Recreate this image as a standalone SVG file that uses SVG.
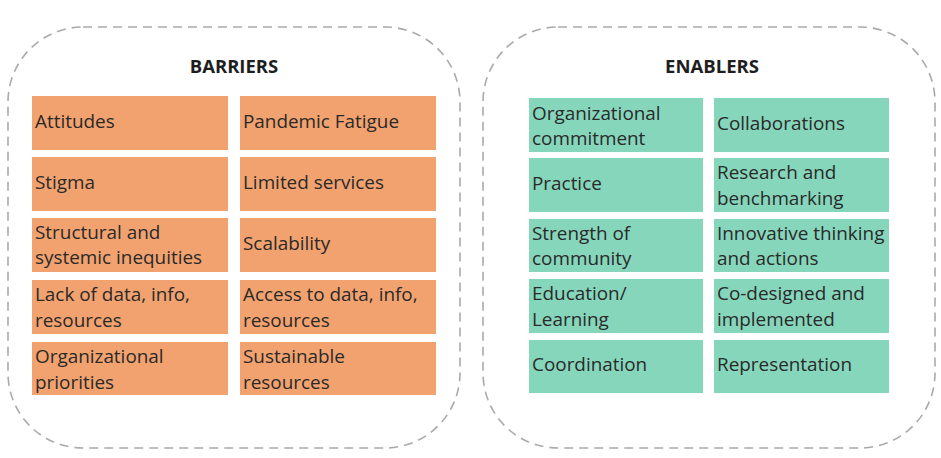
<svg xmlns="http://www.w3.org/2000/svg" width="941" height="458" viewBox="0 0 941 458">
<style>
.frame{fill:none;stroke:#aaaaaa;stroke-width:1.6;stroke-dasharray:9 6}
.b{fill:#F2A26F}
.e{fill:#86D6BC}
.t{font-family:"Open Sans","Liberation Sans",sans-serif;font-size:18.9px;fill:#2a2a2a}
.h{font-family:"Open Sans","Liberation Sans",sans-serif;font-size:18.5px;font-weight:bold;fill:#1e1e1e;text-anchor:middle}
</style>
<rect width="941" height="458" fill="#ffffff"/>
<g id="barriers">
<rect class="frame" x="8" y="27" width="452" height="421" rx="75" ry="75"/>
<text class="h" x="234" y="73">BARRIERS</text>
</g>
<g id="enablers">
<rect class="frame" x="483" y="27" width="452" height="421" rx="75" ry="75"/>
<text class="h" x="712" y="73">ENABLERS</text>
</g>
<g id="b-attitudes"><rect class="b" x="32" y="96" width="196" height="54"/><text class="t" x="35" y="128">Attitudes</text></g>
<g id="b-pandemic"><rect class="b" x="240" y="96" width="196" height="54"/><text class="t" x="243" y="128">Pandemic Fatigue</text></g>
<g id="b-stigma"><rect class="b" x="32" y="157" width="196" height="54"/><text class="t" x="35" y="189">Stigma</text></g>
<g id="b-limited"><rect class="b" x="240" y="157" width="196" height="54"/><text class="t" x="243" y="189">Limited services</text></g>
<g id="b-structural"><rect class="b" x="32" y="218" width="196" height="54"/><text class="t" x="35" y="239">Structural and</text><text class="t" x="35" y="264">systemic inequities</text></g>
<g id="b-scalability"><rect class="b" x="240" y="218" width="196" height="54"/><text class="t" x="243" y="250">Scalability</text></g>
<g id="b-lack"><rect class="b" x="32" y="280" width="196" height="54"/><text class="t" x="35" y="301">Lack of data, info,</text><text class="t" x="35" y="327">resources</text></g>
<g id="b-access"><rect class="b" x="240" y="280" width="196" height="54"/><text class="t" x="243" y="301">Access to data, info,</text><text class="t" x="243" y="327">resources</text></g>
<g id="b-org"><rect class="b" x="32" y="342" width="196" height="53"/><text class="t" x="35" y="363">Organizational</text><text class="t" x="35" y="389">priorities</text></g>
<g id="b-sustainable"><rect class="b" x="240" y="342" width="196" height="53"/><text class="t" x="243" y="363">Sustainable</text><text class="t" x="243" y="389">resources</text></g>
<g id="e-commitment"><rect class="e" x="529" y="98" width="174" height="54"/><text class="t" x="532" y="120">Organizational</text><text class="t" x="532" y="145">commitment</text></g>
<g id="e-collab"><rect class="e" x="714" y="98" width="175" height="54"/><text class="t" x="717" y="130">Collaborations</text></g>
<g id="e-practice"><rect class="e" x="529" y="158" width="174" height="54"/><text class="t" x="532" y="190">Practice</text></g>
<g id="e-research"><rect class="e" x="714" y="158" width="175" height="54"/><text class="t" x="717" y="179">Research and</text><text class="t" x="717" y="205">benchmarking</text></g>
<g id="e-strength"><rect class="e" x="529" y="219" width="174" height="53"/><text class="t" x="532" y="240">Strength of</text><text class="t" x="532" y="265">community</text></g>
<g id="e-innovative"><rect class="e" x="714" y="219" width="175" height="53"/><text class="t" x="717" y="240">Innovative thinking</text><text class="t" x="717" y="265">and actions</text></g>
<g id="e-education"><rect class="e" x="529" y="279" width="174" height="54"/><text class="t" x="532" y="300">Education/</text><text class="t" x="532" y="326">Learning</text></g>
<g id="e-codesigned"><rect class="e" x="714" y="279" width="175" height="54"/><text class="t" x="717" y="300">Co-designed and</text><text class="t" x="717" y="326">implemented</text></g>
<g id="e-coordination"><rect class="e" x="529" y="340" width="174" height="53"/><text class="t" x="532" y="371">Coordination</text></g>
<g id="e-representation"><rect class="e" x="714" y="340" width="175" height="53"/><text class="t" x="717" y="371">Representation</text></g>
<g id="connectors"/>
</svg>
